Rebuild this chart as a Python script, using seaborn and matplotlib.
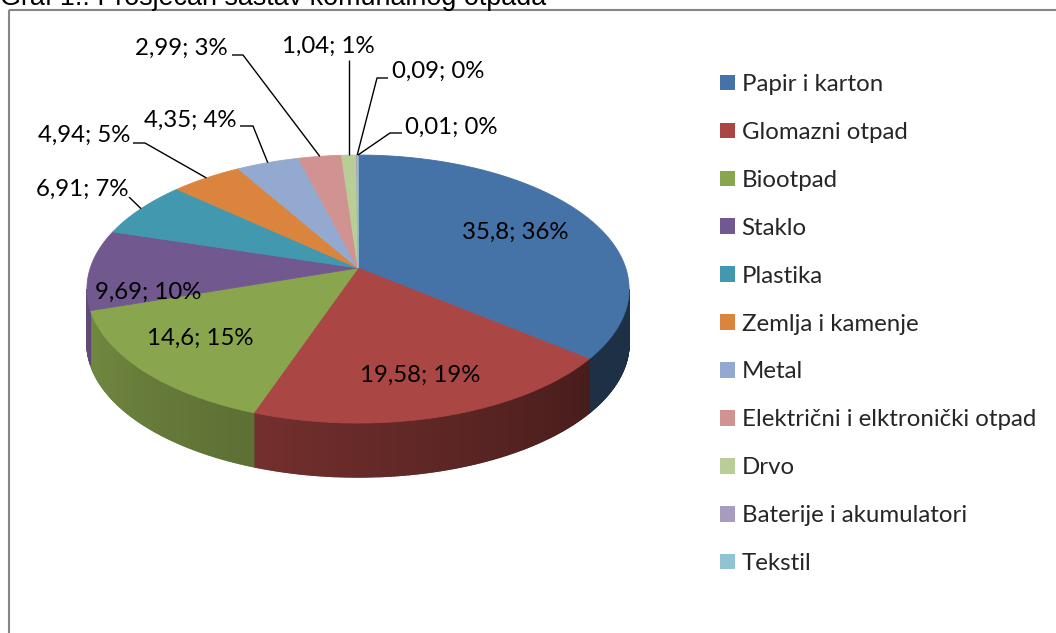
import numpy as np
import matplotlib
matplotlib.use("Agg")
import matplotlib.pyplot as plt
from matplotlib.patches import Patch, Rectangle
from matplotlib.colors import to_rgb
import seaborn as sns

# data
categories = ["Papir i karton", "Glomazni otpad", "Biootpad", "Staklo", "Plastika",
              "Zemlja i kamenje", "Metal", "Električni i elktronički otpad", "Drvo",
              "Baterije i akumulatori", "Tekstil"]
values = [35.8, 19.58, 14.6, 9.69, 6.91, 4.94, 4.35, 2.99, 1.04, 0.09, 0.01]
value_text = ["35,8", "19,58", "14,6", "9,69", "6,91", "4,94", "4,35", "2,99", "1,04", "0,09", "0,01"]
percent_text = [36, 19, 15, 10, 7, 5, 4, 3, 1, 0, 0]
colors = ["#4572A7", "#AA4643", "#89A54E", "#71588F", "#4198AF", "#DB843D",
          "#93A9CF", "#D19392", "#B9CD96", "#A99BBD", "#92C3D5"]
title = "Graf 1.: Prosječan sastav komunalnog otpada"

sns.set_theme(style="white")
palette = sns.color_palette(colors)
plt.rcParams["font.family"] = ["Lato", "DejaVu Sans"]
LABEL_FS = 17.3

# perspective view of the pie (pixel layout)
CX, CY = 358.0, 268.0
A, B, K = 267.7, 130.7, 0.157
DEPTH = 54.0


def project(theta_deg):
    t = np.radians(theta_deg)
    w = 1 + K * np.sin(t)
    return CX + A * np.cos(t) / w, CY - B * np.sin(t) / w


def shade(t):
    return np.interp(t, [189, 250, 320, 351], [0.86, 0.68, 0.42, 0.42])


fig = plt.figure(figsize=(10.56, 6.33), dpi=100)
ax = fig.add_axes([0, 0, 1, 1])
ax.set_xlim(0, 1056)
ax.set_ylim(633, 0)
ax.axis("off")

total = sum(values)
cum = np.concatenate([[0], np.cumsum(values)])
starts = 90 - 360 * cum[:-1] / total
ends = 90 - 360 * cum[1:] / total

# side wall (front part only), shaded strip by strip
vis_lo = 180 + np.degrees(np.arcsin(K))
vis_hi = 360 - np.degrees(np.arcsin(K))
for s, e, col in zip(starts, ends, palette):
    lo = e % 360
    hi = lo + (s - e)
    a, b = max(lo, vis_lo), min(hi, vis_hi)
    if b <= a:
        continue
    ts = np.linspace(a, b, max(2, int((b - a) * 4)))
    for t0, t1 in zip(ts[:-1], ts[1:]):
        xs, ys = project(np.array([t0, t1]))
        c = np.array(to_rgb(col)) * shade((t0 + t1) / 2)
        ax.fill([xs[0], xs[1], xs[1], xs[0]],
                [ys[0], ys[1], ys[1] + DEPTH, ys[0] + DEPTH],
                color=c, lw=1.0, ec=c, zorder=1)

# top face
for s, e, col in zip(starts, ends, palette):
    ts = np.linspace(s, e, max(3, int(abs(s - e) * 3)))
    xs, ys = project(ts)
    ax.fill(np.r_[CX, xs], np.r_[CY, ys], color=col, ec=col, lw=0.6, zorder=2)

# data labels
mids = (starts + ends) / 2
labels = [f"{v}; {p}%" for v, p in zip(value_text, percent_text)]
inside = {0: (515, 232), 1: (420, 375), 2: (200, 338), 3: (148, 292)}
for i, (x, y) in inside.items():
    ax.text(x, y, labels[i], ha="center", va="center", fontsize=LABEL_FS, color="black", zorder=5)

# outside labels: text anchor, alignment, leader elbow points
outside = {
    4: ((128, 189), "right", [(129, 197)]),
    5: ((130, 135), "right", [(133, 143), (145, 143)]),
    6: ((236, 120), "right", [(240, 126), (253, 126)]),
    7: ((228, 48), "right", [(232, 55), (243, 55)]),
    8: ((328, 46), "center", [(349, 60)]),
    9: ((392, 71), "left", [(388, 78), (377, 78)]),
    10: ((405, 127), "left", [(402, 133), (390, 133)]),
}
for i, ((x, y), ha, elbow) in outside.items():
    ax.text(x, y, labels[i], ha=ha, va="center", fontsize=LABEL_FS, color="black", zorder=5)
    rx, ry = project(mids[i])
    px = [p[0] for p in elbow] + [float(rx)]
    py = [p[1] for p in elbow] + [float(ry)]
    if i == 8:
        px[0] = float(rx)
    ax.plot(px, py, color="black", lw=1.0, zorder=4, solid_capstyle="butt")

# chart frame and clipped title
ax.add_patch(Rectangle((8.5, 9.5), 1100, 700, fill=False, ec="#868686", lw=1.5, zorder=0))
ax.text(0, 5, title, ha="left", va="baseline", fontsize=19.4, color="black",
        family=["Liberation Sans", "DejaVu Sans"])

handles = [Patch(facecolor=c, edgecolor="none") for c in palette]
leg = ax.legend(handles, categories, loc="upper left", bbox_to_anchor=(720, 74),
                bbox_transform=ax.transData, frameon=False, fontsize=LABEL_FS,
                handlelength=0.62, handleheight=0.62, handletextpad=0.28,
                labelspacing=1.12, borderpad=0, borderaxespad=0)

fig.savefig("out.png", dpi=100)
